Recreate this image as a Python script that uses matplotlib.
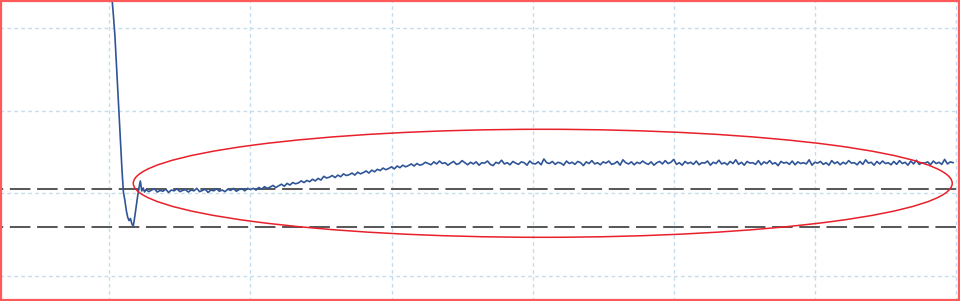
import numpy as np
import matplotlib
matplotlib.use("Agg")
import matplotlib.pyplot as plt
from matplotlib.patches import Ellipse, Rectangle

plt.rcParams['lines.scale_dashes'] = False

# ---- data (arbitrary units; no tick labels in the reference) ----
# initial transient, sampled every 1 time unit from t=101
transient_t0 = 101
transient_y = [36.4, 33.37, 31.3, 29.0, 25.8, 22.5, 19.35, 16.2, 12.8, 10.16,
               9.19, 7.98, 7.13, 6.7, 6.95, 6.3, 6.05, 7.1, 8.34, 9.55,
               10.64, 11.49, 10.28, 10.64, 10.16]

# settled signal, sampled every 2 time units from t=126
settled_t0 = 126
settled_y = [
    # early flat part
    10.45, 10.2, 10.4, 10.55, 10.15, 10.35, 10.25, 10.5, 10.1, 10.4,
    10.3, 10.55, 10.2, 10.35, 10.45, 10.15, 10.4, 10.3, 10.6, 10.2,
    10.35, 10.5, 10.1, 10.4, 10.3, 10.55, 10.25, 10.4, 10.2, 10.5,
    10.35, 10.6, 10.25, 10.45, 10.55, 10.3, 10.6, 10.45,
    # slow rise
    10.6, 10.4, 10.7, 10.5, 10.8, 10.6, 10.75, 10.95, 10.7, 10.9,
    11.1, 10.85, 11.2, 11.0, 11.3, 11.15, 11.25, 11.5, 11.3, 11.55,
    11.4, 11.7, 11.5, 11.8, 11.6, 12.05, 11.85, 11.95, 12.15, 11.9,
    12.2, 12.0, 12.35, 12.15, 12.25, 12.45, 12.2, 12.55, 12.35, 12.5,
    12.7, 12.45, 12.8, 12.6, 12.9, 12.75, 13.05, 12.85, 13.0, 13.2,
    12.95, 13.3, 13.1, 13.4, 13.2, 13.35, 13.55, 13.3, 13.6, 13.4,
    # plateau
    13.5, 13.75, 13.6, 13.45, 13.8, 13.55, 13.9, 13.6, 13.7, 13.4,
    13.65, 13.85, 13.5, 13.6, 13.95, 13.7, 13.45, 13.75, 13.55, 13.8,
    13.4, 13.7, 13.65, 13.9, 13.5, 13.35, 13.75, 13.6, 14.0, 13.55,
    13.7, 13.45, 13.85, 13.65, 13.5, 13.8, 13.7, 13.4, 13.9, 13.6,
    13.55, 13.8, 13.45, 14.15, 13.7, 13.6, 13.85, 13.5, 13.75, 13.65,
    13.4, 13.9, 13.6, 13.75, 13.5, 13.85, 13.7, 13.35, 13.8, 13.6,
    13.95, 13.55, 13.7, 13.45, 13.8, 13.65, 13.9, 13.5, 13.6, 13.85,
    13.4, 14.05, 13.7, 13.55, 13.8, 13.45, 13.75, 13.6, 13.9, 13.65,
    13.5, 13.8, 13.4, 13.7, 13.85, 13.55, 13.95, 13.6, 13.75, 14.1,
    13.5, 13.7, 13.4, 13.85, 13.6, 13.75, 13.5, 13.9, 13.45, 13.7,
    13.65, 13.9, 13.4, 13.75, 13.6, 14.0, 13.55, 13.7, 13.45, 13.85,
    13.6, 14.05, 13.5, 13.75, 13.4, 13.85, 13.65, 13.7, 13.5, 13.95,
    13.45, 13.8, 13.6, 13.95, 13.55, 13.7, 13.35, 13.85, 13.65, 13.75,
    13.5, 13.9, 13.45, 13.8, 13.6, 13.7, 13.55, 14.05, 13.4, 13.75,
    13.65, 13.85, 13.5, 13.7, 13.4, 13.95, 13.6, 13.8, 13.45, 13.75,
    13.55, 13.95, 13.65, 13.7, 13.45, 13.85, 13.5, 14.05, 13.65, 13.75,
    13.4, 13.85, 13.55, 13.9, 13.6, 13.7, 13.45, 13.85, 13.5, 13.95,
    13.6, 13.75, 13.4, 13.9, 13.55, 14.0, 13.5, 13.7, 13.65, 13.8,
    13.45, 13.9, 13.6, 13.75, 13.5, 14.1, 13.55, 13.8, 13.7,
]

ref_levels = [10.52, 5.96]          # dashed reference lines
x_grid = [100, 200, 300, 400, 500, 600, 700]
y_grid = [0, 10, 20, 30]
x_limits = (22.54, 702.9)
y_limits = (-3.02, 33.37)
ellipse_center = (407.2, 11.21)
ellipse_size = (580.4, 13.06)

# ---- build series ----
t = np.concatenate([transient_t0 + np.arange(len(transient_y)),
                    settled_t0 + 2 * np.arange(len(settled_y))])
y = np.array(transient_y + settled_y)

fig = plt.figure(figsize=(9.6, 3.01), dpi=100)
ax = fig.add_axes([0, 0, 1, 1])
ax.set_xlim(*x_limits)
ax.set_ylim(*y_limits)
ax.set_xticks(x_grid)
ax.set_yticks(y_grid)
ax.tick_params(length=0, labelbottom=False, labelleft=False)
for s in ax.spines.values():
    s.set_visible(False)
ax.grid(True, color='#c3dcee', linewidth=1.0, linestyle=(0, (2.6, 2.4)))
ax.set_axisbelow(True)

for lv in ref_levels:
    ax.axhline(lv, color='#5a5a5a', linewidth=1.45,
               linestyle=(12.5, (14.8, 4.8)), zorder=2)

ax.plot(t, y, color='#2f5597', linewidth=1.2, zorder=3)

ax.add_patch(Ellipse(ellipse_center, ellipse_size[0], ellipse_size[1],
                     fill=False, edgecolor='#e8202a', linewidth=1.1, zorder=4))

fig.patches.append(Rectangle((0.001, 0.0035), 0.998, 0.993, transform=fig.transFigure,
                             fill=False, edgecolor='#ff5a5a', linewidth=1.6, zorder=10))

fig.savefig('out.png', dpi=100)
